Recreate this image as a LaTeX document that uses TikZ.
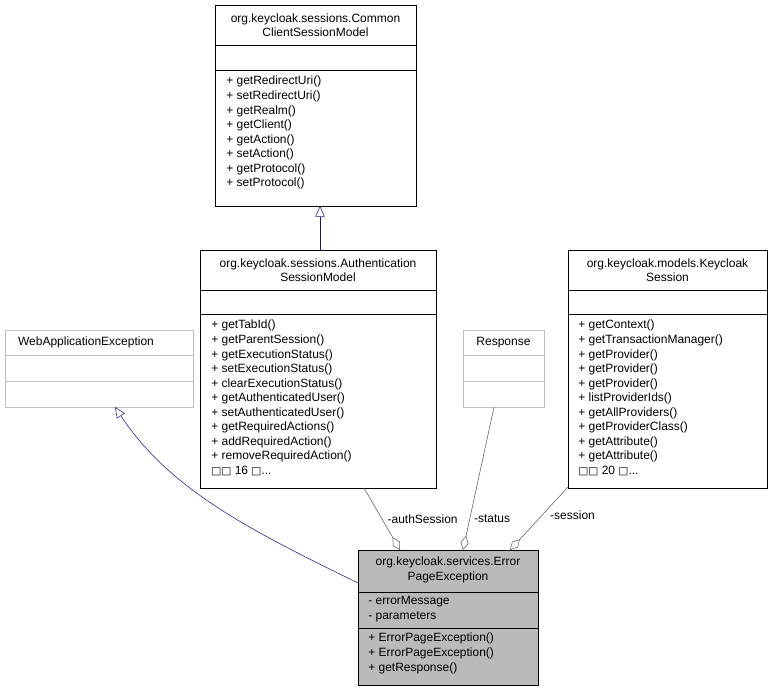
\documentclass[tikz,border=0pt]{standalone}
\usepackage{fontspec}
\setmainfont{Liberation Sans}
\newfontfamily\boxfont{DejaVu Sans}
\usetikzlibrary{positioning}
\usetikzlibrary{arrows.meta}
\newcommand{\sq}{{\boxfont\fontsize{8}{10}\selectfont\char"25A1}}
\tikzset{
  part/.style={draw=black,fill=white,inner sep=0pt,anchor=north west},
  greypart/.style={draw=black!25,fill=white,inner sep=0pt,anchor=north west},
  lines/.style={font=\fontsize{9}{10.9}\selectfont,align=left,anchor=north west,inner sep=0pt},
  heads/.style={font=\fontsize{9}{10.9}\selectfont,align=center,inner sep=0pt},
  inherit/.style={draw=blue!40!black!90,-{Triangle[open,width=7pt,length=8pt]}},
  uses/.style={draw=black!65,-{Diamond[open,width=6pt,length=11pt]}},
}
\begin{document}
\begin{tikzpicture}[x=0.75pt,y=-0.75pt]
\useasboundingbox (0,0) rectangle (773,692);
% CommonClientSessionModel
\draw[part] (215,5) rectangle (416,45);
\draw[part] (215,45) rectangle (416,70);
\draw[part] (215,70) rectangle (416,206);
\node[heads] (common) at (315.5,25) {org.keycloak.sessions.Common\\ClientSessionModel};
\node[lines] at (226,76) {+ getRedirectUri()\\+ setRedirectUri()\\+ getRealm()\\+ getClient()\\+ getAction()\\+ setAction()\\+ getProtocol()\\+ setProtocol()};
\coordinate (commonB) at (320,206);
% AuthenticationSessionModel
\draw[part] (200,250) rectangle (436,290);
\draw[part] (200,290) rectangle (436,314);
\draw[part] (200,314) rectangle (436,488);
\node[heads] (auth) at (318,270) {org.keycloak.sessions.Authentication\\SessionModel};
\node[lines] at (211,320) {+ getTabId()\\+ getParentSession()\\+ getExecutionStatus()\\+ setExecutionStatus()\\+ clearExecutionStatus()\\+ getAuthenticatedUser()\\+ setAuthenticatedUser()\\+ getRequiredActions()\\+ addRequiredAction()\\+ removeRequiredAction()\\\sq\sq{} 16 \sq...};
\coordinate (authT) at (320,250);
\coordinate (authB) at (364,488);
% KeycloakSession
\draw[part] (568,250) rectangle (767,290);
\draw[part] (568,290) rectangle (767,314);
\draw[part] (568,314) rectangle (767,488);
\node[heads] (kc) at (667.5,270) {org.keycloak.models.Keycloak\\Session};
\node[lines] at (578,320) {+ getContext()\\+ getTransactionManager()\\+ getProvider()\\+ getProvider()\\+ getProvider()\\+ listProviderIds()\\+ getAllProviders()\\+ getProviderClass()\\+ getAttribute()\\+ getAttribute()\\\sq\sq{} 20 \sq...};
\coordinate (kcB) at (568,487);
% WebApplicationException
\draw[greypart] (5,330) rectangle (193,355);
\draw[greypart] (5,355) rectangle (193,381);
\draw[greypart] (5,381) rectangle (193,407);
\node[heads] (wae) at (86,342.5) {WebApplicationException};
\coordinate (waeB) at (115,407);
% Response
\draw[greypart] (463,330) rectangle (544,355);
\draw[greypart] (463,355) rectangle (544,381);
\draw[greypart] (463,381) rectangle (544,407);
\node[heads] (resp) at (503.5,342.5) {Response};
\coordinate (respB) at (494,407);
% ErrorPageException
\draw[part,fill=black!27] (358,550) rectangle (538,592);
\draw[part,fill=black!27] (358,592) rectangle (538,628);
\draw[part,fill=black!27] (358,628) rectangle (538,685);
\node[heads] (err) at (448,570) {org.keycloak.services.Error\\PageException};
\node[lines] at (368,596) {- errorMessage\\- parameters};
\node[lines] at (368,633) {+ ErrorPageException()\\+ ErrorPageException()\\+ getResponse()};
\coordinate (errL) at (358,583);
\coordinate (errA) at (400,550);
\coordinate (errS) at (463,550);
\coordinate (errK) at (510,550);
% relations
\draw[inherit] (authT) -- (commonB);
\draw[inherit] (errL) .. controls (250,530) and (170,490) .. (waeB);
\draw[uses] (authB) -- (errA) node[pos=0.5,right=4pt,heads] {-authSession};
\draw[uses] (respB) -- (errS) node[pos=0.78,right=3pt,heads] {-status};
\draw[uses] (kcB) -- (errK) node[pos=0.45,right=6pt,heads] {-session};
\end{tikzpicture}
\end{document}
